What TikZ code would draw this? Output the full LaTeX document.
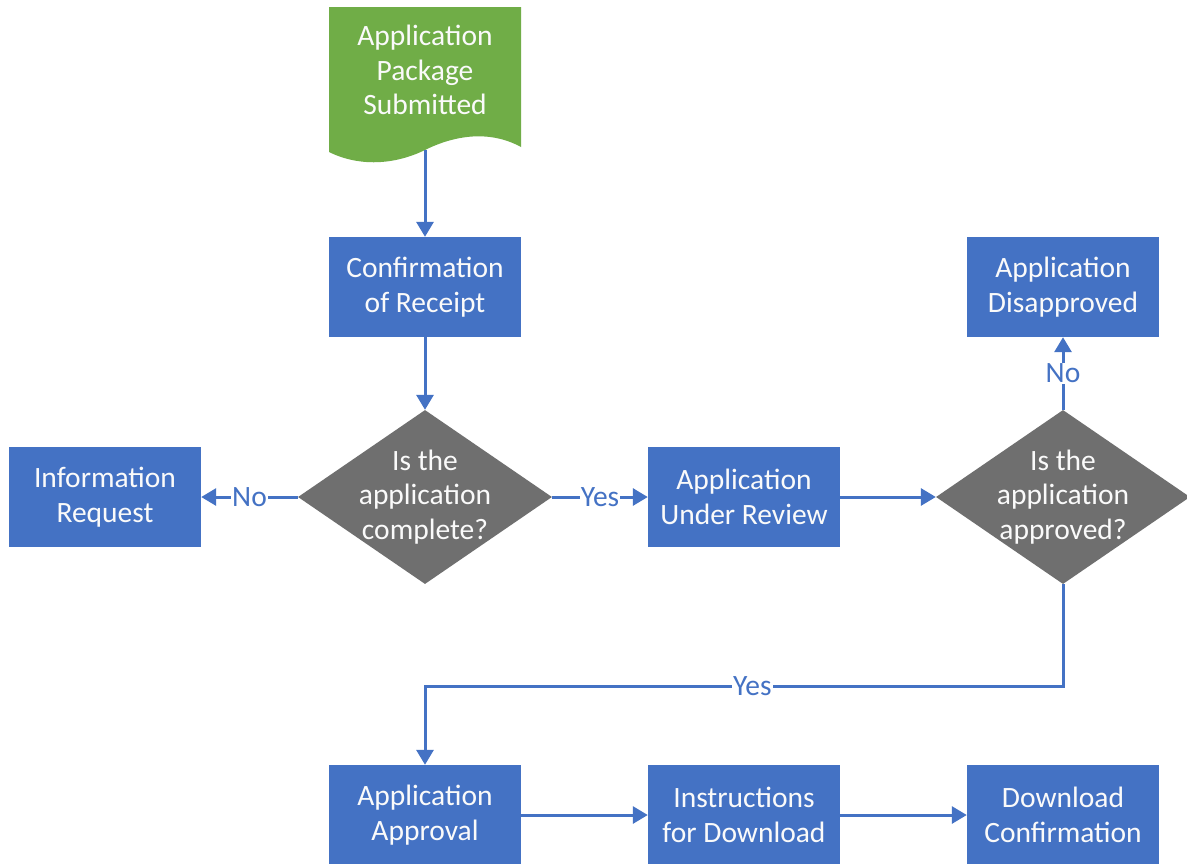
\documentclass[tikz,border=0pt]{standalone}
\usepackage{fontspec}
\setmainfont{Carlito}
\usetikzlibrary{shapes.geometric,arrows.meta}
\definecolor{boxblue}{HTML}{4472C4}
\definecolor{docgreen}{HTML}{70AD47}
\definecolor{diagray}{HTML}{6F6F6F}
\definecolor{txtwhite}{HTML}{FAFAFA}
\tikzset{
  base/.style={font=\fontsize{29.5}{34.5}\selectfont, align=center, text=txtwhite},
  procbox/.style={base, rectangle, fill=boxblue, minimum width=192pt, minimum height=100pt, inner sep=0pt},
  dia/.style={diamond, fill=diagray, minimum width=254pt, minimum height=174pt, inner sep=0pt},
  diatext/.style={base, inner sep=0pt},
  conn/.style={draw=boxblue, line width=3pt, -{Triangle[length=15pt,width=17pt]}},
  lbl/.style={font=\fontsize{29.5}{34.5}\selectfont, text=boxblue, fill=white, inner sep=1pt}
}
\begin{document}
\begin{tikzpicture}[x=1pt,y=-1pt]
\useasboundingbox (0,0) rectangle (1187,863);
\fill[white] (0,0) rectangle (1187,863);
% document shape
\fill[docgreen] (329,7) -- (521,7) -- (521,147)
  .. controls (490,130) and (455,135) .. (425,150)
  .. controls (390,167) and (355,165) .. (329,152) -- cycle;
\node[base, minimum width=192pt, minimum height=143pt, inner sep=0pt] (doc) at (425,70) {Application\\Package\\Submitted};
\coordinate (docb) at (425,150);
% process boxes
\node[procbox] (conf) at (425,287) {Confirmation\\of Receipt};
\node[procbox] (info) at (105,497) {Information\\Request};
\node[procbox] (review) at (744,497) {Application\\Under Review};
\node[procbox] (disapp) at (1063,287) {Application\\Disapproved};
\node[procbox] (appr) at (425,815) {Application\\Approval};
\node[procbox] (instr) at (744,815) {Instructions\\for Download};
\node[procbox] (dlc) at (1063,815) {Download\\Confirmation};
% decisions
\node[dia] (d1) at (425,497) {};
\node[diatext] (d1t) at (d1) {Is the\\application\\complete?};
\node[dia] (d2) at (1063,497) {};
\node[diatext] (d2t) at (d2) {Is the\\application\\approved?};
% connectors
\draw[conn] (docb) -- (conf);
\draw[conn] (conf) -- (d1);
\draw[conn] (d1.west) -- node[lbl] {No} (info.east);
\draw[conn] (d1.east) -- node[lbl] {Yes} (review.west);
\draw[conn] (review.east) -- (d2.west);
\draw[conn] (d2.north) -- node[lbl] {No} (disapp.south);
\coordinate (t1) at (1063,686);
\coordinate (t2) at (425,686);
\draw[conn] (d2.south) -- (t1) -- node[lbl, pos=0.487] {Yes} (t2) -- (appr.north);
\draw[conn] (appr.east) -- (instr.west);
\draw[conn] (instr.east) -- (dlc.west);
\end{tikzpicture}
\end{document}
